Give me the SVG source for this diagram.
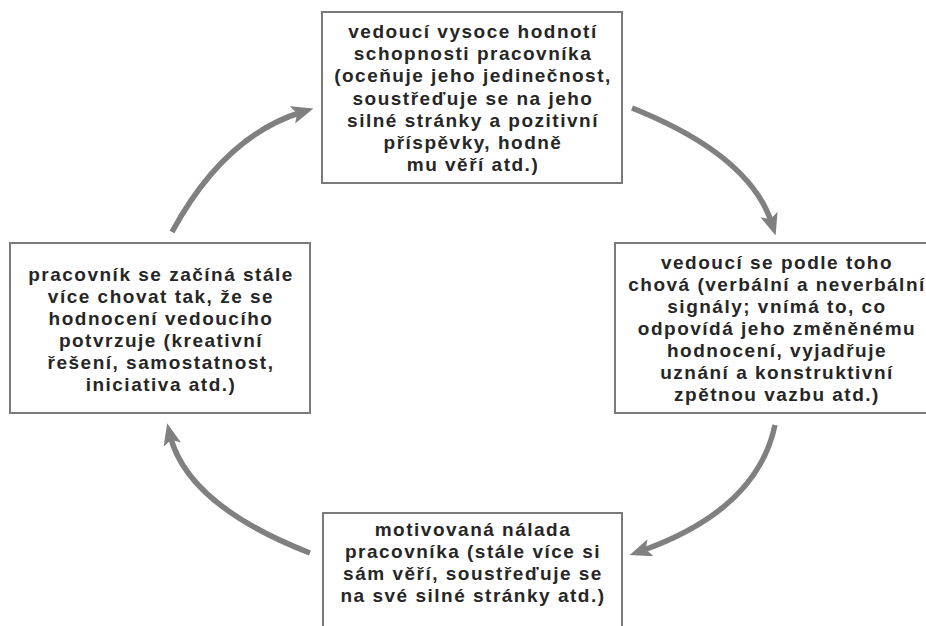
<svg xmlns="http://www.w3.org/2000/svg" width="926" height="626" viewBox="0 0 926 626">
<style>
.box{fill:#fff;stroke:#7a7a7a;stroke-width:2}
.t{font-family:"Liberation Sans",Arial,sans-serif;font-weight:700;font-size:19px;letter-spacing:1.5px;fill:#262626;text-anchor:middle}
.arr{fill:none;stroke:#808080;stroke-width:5.5;stroke-linecap:butt}
</style>
<defs>
<marker id="ah" viewBox="0 0 22 18" refX="10" refY="9" markerWidth="22" markerHeight="18" markerUnits="userSpaceOnUse" orient="auto">
<path d="M0,0 L22,9 L0,18 L5,9 z" fill="#808080"/>
</marker>
</defs>
<rect width="926" height="626" fill="#fff"/>
<g id="connectors">
<path class="arr" d="M172,232 Q224,136 302,112" marker-end="url(#ah)"/>
<path class="arr" d="M632,108 Q750,155 772,224" marker-end="url(#ah)"/>
<path class="arr" d="M775,425 Q757,510 641,551" marker-end="url(#ah)"/>
<path class="arr" d="M310,553 Q187,505 170,435" marker-end="url(#ah)"/>
</g>
<g id="node-top">
<rect class="box" x="322" y="12" width="300" height="171"/>
<text class="t" x="473" y="38">vedoucí vysoce hodnotí</text>
<text class="t" x="473" y="60">schopnosti pracovníka</text>
<text class="t" x="473" y="82">(oceňuje jeho jedinečnost,</text>
<text class="t" x="473" y="105">soustřeďuje se na jeho</text>
<text class="t" x="473" y="127">silné stránky a pozitivní</text>
<text class="t" x="473" y="149">příspěvky, hodně</text>
<text class="t" x="473" y="171">mu věří atd.)</text>
</g>
<g id="node-right">
<rect class="box" x="615" y="243" width="330" height="170"/>
<text class="t" x="777" y="269">vedoucí se podle toho</text>
<text class="t" x="777" y="291">chová (verbální a neverbální</text>
<text class="t" x="777" y="313">signály; vnímá to, co</text>
<text class="t" x="777" y="335">odpovídá jeho změněnému</text>
<text class="t" x="777" y="357">hodnocení, vyjadřuje</text>
<text class="t" x="777" y="379">uznání a konstruktivní</text>
<text class="t" x="777" y="401">zpětnou vazbu atd.)</text>
</g>
<g id="node-left">
<rect class="box" x="10" y="243" width="300" height="170"/>
<text class="t" x="161" y="281">pracovník se začíná stále</text>
<text class="t" x="161" y="303">více chovat tak, že se</text>
<text class="t" x="161" y="325">hodnocení vedoucího</text>
<text class="t" x="161" y="347">potvrzuje (kreativní</text>
<text class="t" x="161" y="369">řešení, samostatnost,</text>
<text class="t" x="161" y="391">iniciativa atd.)</text>
</g>
<g id="node-bottom">
<rect class="box" x="323" y="513" width="299" height="130"/>
<text class="t" x="473" y="536">motivovaná nálada</text>
<text class="t" x="473" y="558">pracovníka (stále více si</text>
<text class="t" x="473" y="580">sám věří, soustřeďuje se</text>
<text class="t" x="473" y="602">na své silné stránky atd.)</text>
</g>
</svg>
